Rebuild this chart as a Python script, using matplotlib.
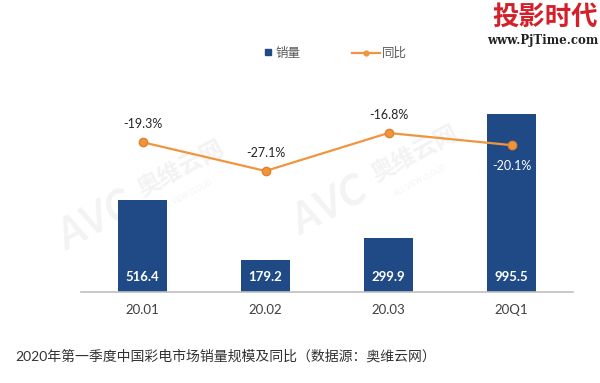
import matplotlib
matplotlib.use("Agg")
import matplotlib.pyplot as plt
from matplotlib.lines import Line2D

plt.rcParams['font.family'] = ['Lato', 'Noto Sans CJK SC', 'DejaVu Sans']

# 数据
categories = ['20.01', '20.02', '20.03', '20Q1']
sales = [516.4, 179.2, 299.9, 995.5]
yoy = [-19.3, -27.1, -16.8, -20.1]
caption = '2020年第一季度中国彩电市场销量规模及同比（数据源：奥维云网）'

bar_color = '#1f4a86'
line_color = '#f0953e'

fig = plt.figure(figsize=(6, 3.83), dpi=100)
ax = fig.add_axes([0.135, 0.2376, 0.82, 0.658])
x = list(range(len(categories)))

# 水印 (很淡, 在最下层)
wm = '#f3f3f3'
for wx, wy in [(0.25, 0.50), (0.64, 0.54)]:
    fig.text(wx - 0.09, wy - 0.08, 'AVC', fontsize=30, fontweight='bold', style='italic',
             color=wm, rotation=28, ha='center', va='center', zorder=-5)
    fig.text(wx + 0.05, wy + 0.06, '奥维云网', fontsize=17, fontweight='bold',
             color=wm, rotation=28, ha='center', va='center', zorder=-5)
    fig.text(wx + 0.06, wy - 0.01, 'ALL VIEW CLOUD', fontsize=5,
             color=wm, rotation=28, ha='center', va='center', zorder=-5)

ax.patch.set_alpha(0)
ax.bar(x, sales, width=0.4, color=bar_color, zorder=2)
ax.set_xlim(-0.5, 3.5)
ax.set_ylim(0, 1412)
for s in ['top', 'right', 'left']:
    ax.spines[s].set_visible(False)
ax.spines['bottom'].set_color('#bfbfbf')
ax.spines['bottom'].set_linewidth(1.2)
ax.set_yticks([])
ax.set_xticks(x)
ax.set_xticklabels(categories, fontsize=9.5, color='#404040')
ax.tick_params(axis='x', length=0, pad=9)

for i, v in enumerate(sales):
    ax.text(i, 84, f'{v:.1f}', color='white', fontsize=9.5, fontweight='bold',
            ha='center', va='center', zorder=3)

ax2 = ax.twinx()
ax2.plot(x, yoy, color=line_color, lw=1.6, marker='o', markersize=6,
         markerfacecolor=line_color, markeredgecolor='#e0822a', zorder=4)
ax2.set_ylim(-59.9, 8.4)
ax2.axis('off')

for i, v in enumerate(yoy):
    if i == 3:
        ax2.annotate(f'{v:.1f}%', (i, v), xytext=(0, -15), textcoords='offset points',
                     ha='center', va='center', fontsize=9, color='white')
    else:
        ax2.annotate(f'{v:.1f}%', (i, v), xytext=(0, 13), textcoords='offset points',
                     ha='center', va='center', fontsize=9, color='#262626')

# 图例 (两个分开的)
h_bar = Line2D([], [], ls='none', marker='s', markersize=5, color=bar_color)
h_line = Line2D([], [], color=line_color, lw=1.6, marker='o', markersize=3.5)
leg1 = fig.legend([h_bar], ['销量'], loc='center left', bbox_to_anchor=(0.44, 0.862),
                  frameon=False, fontsize=9, labelcolor='#595959', handlelength=0.6,
                  handletextpad=0.3, borderpad=0, borderaxespad=0)
fig.legend([h_line], ['同比'], loc='center left', bbox_to_anchor=(0.586, 0.862),
           frameon=False, fontsize=9, labelcolor='#595959', handlelength=2.3,
           handletextpad=0.15, borderpad=0, borderaxespad=0)

fig.text(0.026, 0.07, caption, fontsize=10, color='#333333', ha='left', va='center')

# logo
fig.text(0.997, 0.955, '投影时代', fontsize=19, fontweight='bold', color='#d4202a',
         ha='right', va='center', family=['Noto Sans CJK SC'])
fig.text(0.997, 0.895, 'www.PjTime.com', fontsize=8.5, fontweight='bold', color='#222222',
         ha='right', va='center', family=['DejaVu Serif'])

fig.savefig('out.png', dpi=100)
